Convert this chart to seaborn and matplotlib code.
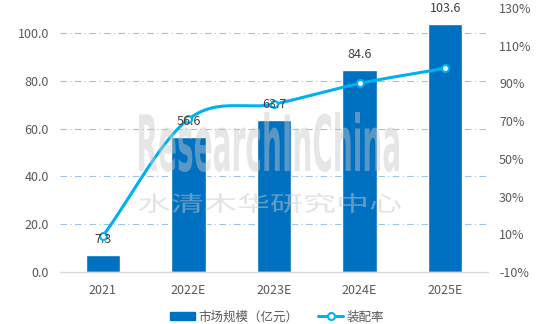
import numpy as np
import pandas as pd
import matplotlib
matplotlib.use("Agg")
import matplotlib.pyplot as plt
from matplotlib.patches import Patch, PathPatch
from matplotlib.lines import Line2D
from matplotlib.textpath import TextPath
from matplotlib.font_manager import FontProperties
from matplotlib.transforms import Affine2D
import seaborn as sns

years = ["2021", "2022E", "2023E", "2024E", "2025E"]
market_size = [7.3, 56.6, 63.7, 84.6, 103.6]
install_rate = [9, 71, 79, 90, 98]
left_ticks = [0, 20, 40, 60, 80, 100]
right_ticks = [-10, 10, 30, 50, 70, 90, 110, 130]

sns.set_theme(style="white")
plt.rcParams["font.family"] = ["Noto Sans CJK SC", "DejaVu Sans"]

BAR = "#0070C0"
LINE = "#00B0F0"
TXT = "#595959"
FS = 9

W, H = 540, 324
fig = plt.figure(figsize=(W / 100, H / 100), dpi=100)
ax = fig.add_axes([60 / W, 1 - 272 / H, 428 / W, 264 / H])

df = pd.DataFrame({"year": years, "size": market_size, "rate": install_rate})
sns.barplot(data=df, x="year", y="size", color=BAR, saturation=1, width=0.4, ax=ax, zorder=2)

ax.set_xlim(-0.5, 4.5)
ax.set_ylim(0, 110.5)
ax.set_yticks(left_ticks)
ax.set_yticklabels([f"{v:.1f}" for v in left_ticks])
ax.set_xlabel("")
ax.set_ylabel("")
for y in left_ticks[1:]:
    ax.axhline(y, color="#9DC3E6", lw=0.8, ls=(0, (6, 3, 1, 3)), zorder=1)
for s in ["left", "right", "top"]:
    ax.spines[s].set_visible(False)
ax.spines["bottom"].set_color("#D9D9D9")
ax.spines["bottom"].set_linewidth(1.0)
ax.tick_params(axis="both", length=0, colors=TXT, labelsize=FS)
ax.tick_params(axis="x", pad=9)
ax.tick_params(axis="y", pad=8)

ax2 = ax.twinx()
ax2.set_ylim(-10, 130)
ax2.set_yticks(right_ticks)
ax2.set_yticklabels([f"{v}%" for v in right_ticks])
ax2.tick_params(axis="y", length=0, colors=TXT, labelsize=FS, pad=8)
for s in ["left", "right", "top", "bottom"]:
    ax2.spines[s].set_visible(False)
ax2.grid(False)

# smoothed line (Bezier through the points, built in screen-like units)
xs = np.arange(len(install_rate), dtype=float)
ys = np.array(install_rate, dtype=float)
sx, sy = 85.6, 1.886
P = np.column_stack([xs * sx, ys * sy])
Pp = np.vstack([P[0] - (P[1] - P[0]), P, P[-1] + (P[-1] - P[-2])])
curve = []
t = np.linspace(0, 1, 40)
for i in range(1, len(Pp) - 2):
    p0, p1, p2, p3 = Pp[i - 1], Pp[i], Pp[i + 1], Pp[i + 2]
    c1 = p1 + (p2 - p0) / 6
    c2 = p2 - (p3 - p1) / 6
    seg = ((1 - t) ** 3)[:, None] * p1 + (3 * (1 - t) ** 2 * t)[:, None] * c1 \
        + (3 * (1 - t) * t ** 2)[:, None] * c2 + (t ** 3)[:, None] * p2
    curve.append(seg)
curve = np.vstack(curve)
ax2.plot(curve[:, 0] / sx, curve[:, 1] / sy, color=LINE, lw=2.2, zorder=3,
         solid_capstyle="round")
ax2.plot(xs, ys, ls="none", marker="o", ms=5, mfc="white", mec=LINE, mew=1.5, zorder=4)


def stamp(text, family, weight, x0, x1, y_top, y_bot, color, alpha):
    """Place text stretched to fill a pixel box (top-left origin)."""
    tp = TextPath((0, 0), text, size=1, prop=FontProperties(family=family, weight=weight))
    bb = tp.get_extents()
    tr = Affine2D().translate(-bb.x0, -bb.y0) \
        .scale((x1 - x0) / bb.width / W, (y_bot - y_top) / bb.height / H) \
        .translate(x0 / W, 1 - y_bot / H)
    patch = PathPatch(tp, transform=tr + fig.transFigure, facecolor=color,
                      edgecolor="none", alpha=alpha, zorder=5)
    fig.add_artist(patch)


# watermark
stamp("ResearchInChina", "DejaVu Sans", "bold", 139, 399, 112, 172, "#C8C8C8", 0.45)
stamp("水清木华研究中心", "Noto Sans CJK SC", "light", 139, 401, 193, 213, "#C8C8C8", 0.5)

# value labels
for i, v in enumerate(market_size):
    ax2.text(i, v + 6.5, f"{v:.1f}", transform=ax.transData, ha="center", va="center",
             fontsize=FS, color="#404040", zorder=6)

handles = [Patch(facecolor=BAR, edgecolor=BAR),
           Line2D([0], [0], color=LINE, lw=2.2, marker="o", ms=5, mfc="white", mec=LINE, mew=1.5)]
fig.legend(handles, ["市场规模（亿元）", "装配率"], loc="center",
           bbox_to_anchor=(277 / W, 1 - 317 / H),
           ncol=2, frameon=False, fontsize=FS, handlelength=2.0, handleheight=0.55,
           columnspacing=1.6, handletextpad=0.3, labelcolor=TXT)

fig.savefig("out.png", dpi=100)
